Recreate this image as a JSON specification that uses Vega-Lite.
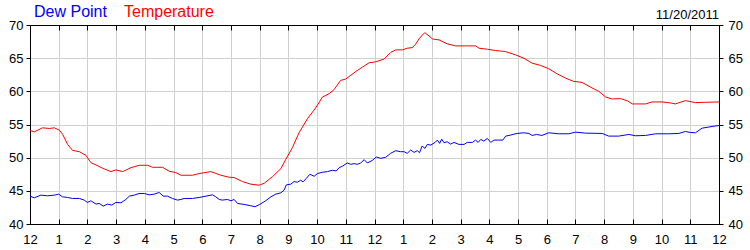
{
  "$schema": "https://vega.github.io/schema/vega-lite/v6.json",
  "width": 689,
  "height": 199,
  "autosize": {"type": "none"},
  "padding": {"left": 30, "top": 25, "right": 31, "bottom": 26},
  "background": "white",
  "config": {
    "font": "Liberation Sans",
    "view": {"stroke": "black", "strokeWidth": 1},
    "axis": {"domainColor": "black", "tickColor": "black", "labelColor": "black", "labelFontSize": 13, "labelFont": "Liberation Sans", "gridColor": "#d0d0d0", "gridWidth": 1, "title": null}
  },
  "title": {"text": "11/20/2011", "anchor": "end", "frame": "group", "fontSize": 13, "fontWeight": "normal", "offset": -6, "dy": 12, "color": "black", "font": "Liberation Sans"},
  "data": {"values": [
    {"h":0,"s":"Temperature","v":54.1},{"h":0.15,"s":"Temperature","v":53.9},{"h":0.44,"s":"Temperature","v":54.5},{"h":0.67,"s":"Temperature","v":54.4},{"h":0.85,"s":"Temperature","v":54.5},{"h":1.02,"s":"Temperature","v":54.15},{"h":1.14,"s":"Temperature","v":53.5},{"h":1.31,"s":"Temperature","v":52.0},{"h":1.48,"s":"Temperature","v":51.1},{"h":1.72,"s":"Temperature","v":50.9},{"h":1.95,"s":"Temperature","v":50.35},{"h":2.12,"s":"Temperature","v":49.25},{"h":2.3,"s":"Temperature","v":48.9},{"h":2.53,"s":"Temperature","v":48.4},{"h":2.82,"s":"Temperature","v":47.9},{"h":2.99,"s":"Temperature","v":48.15},{"h":3.23,"s":"Temperature","v":47.9},{"h":3.52,"s":"Temperature","v":48.5},{"h":3.81,"s":"Temperature","v":48.85},{"h":4.1,"s":"Temperature","v":48.85},{"h":4.27,"s":"Temperature","v":48.55},{"h":4.62,"s":"Temperature","v":48.55},{"h":4.85,"s":"Temperature","v":47.95},{"h":5.08,"s":"Temperature","v":47.75},{"h":5.26,"s":"Temperature","v":47.35},{"h":5.66,"s":"Temperature","v":47.35},{"h":5.89,"s":"Temperature","v":47.6},{"h":6.3,"s":"Temperature","v":47.9},{"h":6.65,"s":"Temperature","v":47.35},{"h":6.94,"s":"Temperature","v":47.05},{"h":7.11,"s":"Temperature","v":47.0},{"h":7.4,"s":"Temperature","v":46.4},{"h":7.69,"s":"Temperature","v":46.0},{"h":7.98,"s":"Temperature","v":45.85},{"h":8.16,"s":"Temperature","v":46.15},{"h":8.45,"s":"Temperature","v":47.15},{"h":8.74,"s":"Temperature","v":48.35},{"h":8.91,"s":"Temperature","v":49.75},{"h":9.14,"s":"Temperature","v":51.5},{"h":9.37,"s":"Temperature","v":53.75},{"h":9.66,"s":"Temperature","v":55.85},{"h":9.95,"s":"Temperature","v":57.5},{"h":10.19,"s":"Temperature","v":59.15},{"h":10.42,"s":"Temperature","v":59.65},{"h":10.59,"s":"Temperature","v":60.25},{"h":10.82,"s":"Temperature","v":61.65},{"h":11.0,"s":"Temperature","v":61.85},{"h":11.35,"s":"Temperature","v":63.0},{"h":11.58,"s":"Temperature","v":63.65},{"h":11.81,"s":"Temperature","v":64.3},{"h":12.04,"s":"Temperature","v":64.45},{"h":12.33,"s":"Temperature","v":64.85},{"h":12.56,"s":"Temperature","v":65.85},{"h":12.74,"s":"Temperature","v":66.25},{"h":12.97,"s":"Temperature","v":66.25},{"h":13.14,"s":"Temperature","v":66.5},{"h":13.32,"s":"Temperature","v":66.6},{"h":13.43,"s":"Temperature","v":67.1},{"h":13.55,"s":"Temperature","v":67.9},{"h":13.67,"s":"Temperature","v":68.5},{"h":13.75,"s":"Temperature","v":68.85},{"h":13.9,"s":"Temperature","v":68.35},{"h":14.02,"s":"Temperature","v":67.9},{"h":14.25,"s":"Temperature","v":67.75},{"h":14.54,"s":"Temperature","v":67.15},{"h":14.83,"s":"Temperature","v":66.85},{"h":15.18,"s":"Temperature","v":66.85},{"h":15.53,"s":"Temperature","v":66.85},{"h":15.64,"s":"Temperature","v":66.5},{"h":15.93,"s":"Temperature","v":66.35},{"h":16.22,"s":"Temperature","v":66.15},{"h":16.56,"s":"Temperature","v":66.0},{"h":16.91,"s":"Temperature","v":65.5},{"h":17.2,"s":"Temperature","v":65.0},{"h":17.49,"s":"Temperature","v":64.25},{"h":17.79,"s":"Temperature","v":63.9},{"h":18.07,"s":"Temperature","v":63.4},{"h":18.36,"s":"Temperature","v":62.65},{"h":18.65,"s":"Temperature","v":62.0},{"h":18.94,"s":"Temperature","v":61.5},{"h":19.23,"s":"Temperature","v":61.35},{"h":19.52,"s":"Temperature","v":60.65},{"h":19.81,"s":"Temperature","v":60.0},{"h":20.05,"s":"Temperature","v":59.15},{"h":20.28,"s":"Temperature","v":58.85},{"h":20.57,"s":"Temperature","v":58.9},{"h":20.8,"s":"Temperature","v":58.6},{"h":20.98,"s":"Temperature","v":58.1},{"h":21.44,"s":"Temperature","v":58.1},{"h":21.67,"s":"Temperature","v":58.4},{"h":22.02,"s":"Temperature","v":58.4},{"h":22.31,"s":"Temperature","v":58.25},{"h":22.48,"s":"Temperature","v":58.1},{"h":22.83,"s":"Temperature","v":58.6},{"h":23.18,"s":"Temperature","v":58.3},{"h":23.53,"s":"Temperature","v":58.35},{"h":24.0,"s":"Temperature","v":58.4},
    {"h":0,"s":"Dew Point","v":44.2},{"h":0.15,"s":"Dew Point","v":43.95},{"h":0.38,"s":"Dew Point","v":44.35},{"h":0.61,"s":"Dew Point","v":44.25},{"h":0.85,"s":"Dew Point","v":44.35},{"h":1.0,"s":"Dew Point","v":44.5},{"h":1.13,"s":"Dew Point","v":44.1},{"h":1.31,"s":"Dew Point","v":44.0},{"h":1.48,"s":"Dew Point","v":43.85},{"h":1.72,"s":"Dew Point","v":43.85},{"h":1.89,"s":"Dew Point","v":43.6},{"h":2.0,"s":"Dew Point","v":43.25},{"h":2.12,"s":"Dew Point","v":43.5},{"h":2.3,"s":"Dew Point","v":43.0},{"h":2.41,"s":"Dew Point","v":43.1},{"h":2.55,"s":"Dew Point","v":42.7},{"h":2.7,"s":"Dew Point","v":43.0},{"h":2.85,"s":"Dew Point","v":42.85},{"h":2.99,"s":"Dew Point","v":43.25},{"h":3.17,"s":"Dew Point","v":43.2},{"h":3.34,"s":"Dew Point","v":43.7},{"h":3.46,"s":"Dew Point","v":44.2},{"h":3.63,"s":"Dew Point","v":44.35},{"h":3.8,"s":"Dew Point","v":44.6},{"h":3.98,"s":"Dew Point","v":44.6},{"h":4.15,"s":"Dew Point","v":44.4},{"h":4.33,"s":"Dew Point","v":44.5},{"h":4.5,"s":"Dew Point","v":44.75},{"h":4.64,"s":"Dew Point","v":44.2},{"h":4.79,"s":"Dew Point","v":44.2},{"h":4.96,"s":"Dew Point","v":43.85},{"h":5.14,"s":"Dew Point","v":43.6},{"h":5.26,"s":"Dew Point","v":43.7},{"h":5.37,"s":"Dew Point","v":43.85},{"h":5.66,"s":"Dew Point","v":43.85},{"h":5.89,"s":"Dew Point","v":44.0},{"h":6.13,"s":"Dew Point","v":44.2},{"h":6.36,"s":"Dew Point","v":44.4},{"h":6.47,"s":"Dew Point","v":44.1},{"h":6.59,"s":"Dew Point","v":43.7},{"h":6.7,"s":"Dew Point","v":43.6},{"h":6.88,"s":"Dew Point","v":43.7},{"h":7.0,"s":"Dew Point","v":43.5},{"h":7.11,"s":"Dew Point","v":43.7},{"h":7.23,"s":"Dew Point","v":43.1},{"h":7.46,"s":"Dew Point","v":42.95},{"h":7.69,"s":"Dew Point","v":42.75},{"h":7.84,"s":"Dew Point","v":42.6},{"h":8.0,"s":"Dew Point","v":42.95},{"h":8.21,"s":"Dew Point","v":43.5},{"h":8.39,"s":"Dew Point","v":44.1},{"h":8.56,"s":"Dew Point","v":44.5},{"h":8.74,"s":"Dew Point","v":44.7},{"h":8.85,"s":"Dew Point","v":45.1},{"h":8.93,"s":"Dew Point","v":45.9},{"h":9.08,"s":"Dew Point","v":46.0},{"h":9.2,"s":"Dew Point","v":46.4},{"h":9.31,"s":"Dew Point","v":46.3},{"h":9.43,"s":"Dew Point","v":46.6},{"h":9.51,"s":"Dew Point","v":46.35},{"h":9.63,"s":"Dew Point","v":46.9},{"h":9.75,"s":"Dew Point","v":47.5},{"h":9.9,"s":"Dew Point","v":47.2},{"h":10.01,"s":"Dew Point","v":47.6},{"h":10.18,"s":"Dew Point","v":47.8},{"h":10.36,"s":"Dew Point","v":47.9},{"h":10.53,"s":"Dew Point","v":48.1},{"h":10.67,"s":"Dew Point","v":48.0},{"h":10.77,"s":"Dew Point","v":48.5},{"h":10.88,"s":"Dew Point","v":48.7},{"h":11.05,"s":"Dew Point","v":49.2},{"h":11.17,"s":"Dew Point","v":49.0},{"h":11.29,"s":"Dew Point","v":49.1},{"h":11.4,"s":"Dew Point","v":49.0},{"h":11.52,"s":"Dew Point","v":49.2},{"h":11.64,"s":"Dew Point","v":49.7},{"h":11.75,"s":"Dew Point","v":49.2},{"h":11.93,"s":"Dew Point","v":49.6},{"h":12.06,"s":"Dew Point","v":50.1},{"h":12.22,"s":"Dew Point","v":49.9},{"h":12.39,"s":"Dew Point","v":50.05},{"h":12.56,"s":"Dew Point","v":50.65},{"h":12.74,"s":"Dew Point","v":51.05},{"h":12.91,"s":"Dew Point","v":50.9},{"h":13.03,"s":"Dew Point","v":50.9},{"h":13.14,"s":"Dew Point","v":50.65},{"h":13.26,"s":"Dew Point","v":51.15},{"h":13.38,"s":"Dew Point","v":50.8},{"h":13.49,"s":"Dew Point","v":51.05},{"h":13.57,"s":"Dew Point","v":50.75},{"h":13.66,"s":"Dew Point","v":51.75},{"h":13.76,"s":"Dew Point","v":51.4},{"h":13.84,"s":"Dew Point","v":52.0},{"h":13.96,"s":"Dew Point","v":51.9},{"h":14.11,"s":"Dew Point","v":52.3},{"h":14.19,"s":"Dew Point","v":52.65},{"h":14.27,"s":"Dew Point","v":52.15},{"h":14.34,"s":"Dew Point","v":52.8},{"h":14.42,"s":"Dew Point","v":52.25},{"h":14.53,"s":"Dew Point","v":52.4},{"h":14.65,"s":"Dew Point","v":52.05},{"h":14.77,"s":"Dew Point","v":52.3},{"h":14.94,"s":"Dew Point","v":52.0},{"h":15.12,"s":"Dew Point","v":52.0},{"h":15.23,"s":"Dew Point","v":52.3},{"h":15.41,"s":"Dew Point","v":52.3},{"h":15.52,"s":"Dew Point","v":52.65},{"h":15.61,"s":"Dew Point","v":52.3},{"h":15.7,"s":"Dew Point","v":52.75},{"h":15.81,"s":"Dew Point","v":52.5},{"h":15.93,"s":"Dew Point","v":52.9},{"h":16.05,"s":"Dew Point","v":52.3},{"h":16.16,"s":"Dew Point","v":52.65},{"h":16.33,"s":"Dew Point","v":52.65},{"h":16.47,"s":"Dew Point","v":52.65},{"h":16.57,"s":"Dew Point","v":53.25},{"h":16.74,"s":"Dew Point","v":53.4},{"h":16.86,"s":"Dew Point","v":53.55},{"h":16.97,"s":"Dew Point","v":53.65},{"h":17.2,"s":"Dew Point","v":53.75},{"h":17.38,"s":"Dew Point","v":53.65},{"h":17.49,"s":"Dew Point","v":53.35},{"h":17.65,"s":"Dew Point","v":53.5},{"h":17.83,"s":"Dew Point","v":53.35},{"h":18.07,"s":"Dew Point","v":53.75},{"h":18.42,"s":"Dew Point","v":53.6},{"h":18.77,"s":"Dew Point","v":53.6},{"h":19.0,"s":"Dew Point","v":53.85},{"h":19.35,"s":"Dew Point","v":53.7},{"h":19.93,"s":"Dew Point","v":53.65},{"h":20.16,"s":"Dew Point","v":53.25},{"h":20.51,"s":"Dew Point","v":53.25},{"h":20.86,"s":"Dew Point","v":53.5},{"h":21.09,"s":"Dew Point","v":53.3},{"h":21.44,"s":"Dew Point","v":53.35},{"h":21.79,"s":"Dew Point","v":53.6},{"h":22.25,"s":"Dew Point","v":53.6},{"h":22.6,"s":"Dew Point","v":53.65},{"h":22.83,"s":"Dew Point","v":53.95},{"h":23.0,"s":"Dew Point","v":53.8},{"h":23.18,"s":"Dew Point","v":53.75},{"h":23.41,"s":"Dew Point","v":54.45},{"h":23.76,"s":"Dew Point","v":54.7},{"h":24.0,"s":"Dew Point","v":54.85}
  ]},
  "layer": [
    {
      "mark": {"type": "line", "strokeWidth": 1},
      "encoding": {
        "x": {"field": "h", "type": "quantitative", "scale": {"domain": [0, 24], "nice": false},
          "axis": {"orient": "bottom", "values": [0,1,2,3,4,5,6,7,8,9,10,11,12,13,14,15,16,17,18,19,20,21,22,23,24], "labelExpr": "datum.value % 12 == 0 ? '12' : '' + (datum.value % 12)", "tickSize": -5, "labelPadding": 14, "grid": true, "labelFlush": false, "labelOverlap": false}},
        "y": {"field": "v", "type": "quantitative", "scale": {"domain": [40, 70], "nice": false, "zero": false},
          "axis": {"orient": "left", "values": [40,45,50,55,60,65,70], "tickSize": 4, "labelPadding": 3, "grid": true, "labelFlush": false}},
        "color": {"field": "s", "type": "nominal",
          "scale": {"domain": ["Dew Point", "Temperature"], "range": ["#0000ff", "#ff0000"]},
          "legend": {"orient": "none", "legendX": -12, "legendY": -21, "direction": "horizontal", "title": null, "symbolSize": 0, "symbolOpacity": 0, "symbolStrokeWidth": 0, "labelOffset": 0, "labelFontSize": 16, "labelFont": "Liberation Sans", "columnPadding": 1, "padding": 0, "labelLimit": 0,
            "encode": {"labels": {"update": {"fill": {"signal": "datum.label === 'Dew Point' ? '#0000ff' : '#ff0000'"}}}}}}
      }
    },
    {
      "mark": {"type": "line", "opacity": 0},
      "encoding": {
        "x": {"field": "h", "type": "quantitative", "scale": {"domain": [0, 24], "nice": false},
          "axis": {"orient": "top", "values": [0,1,2,3,4,5,6,7,8,9,10,11,12,13,14,15,16,17,18,19,20,21,22,23,24], "labels": false, "tickSize": -5, "grid": false}},
        "y": {"field": "v", "type": "quantitative", "scale": {"domain": [40, 70], "nice": false, "zero": false},
          "axis": {"orient": "right", "values": [40,45,50,55,60,65,70], "tickSize": 4, "labelPadding": 5, "grid": false, "labelFlush": false}},
        "detail": {"field": "s", "type": "nominal"}
      }
    }
  ],
  "resolve": {"axis": {"x": "independent", "y": "independent"}}
}
